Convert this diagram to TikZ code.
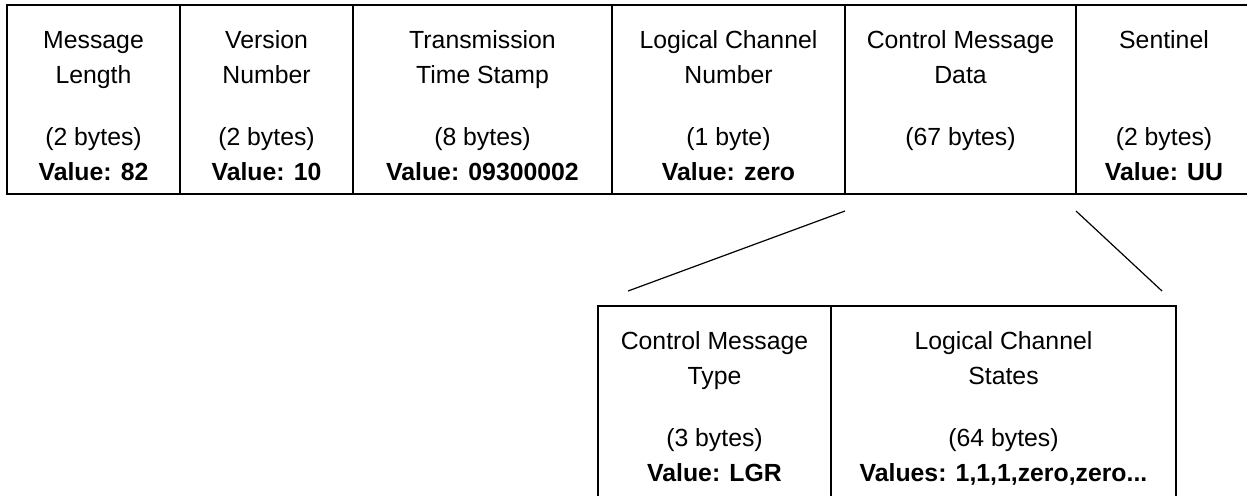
\documentclass[tikz,border=0pt]{standalone}
\usepackage{fontspec}
\setmainfont{Liberation Sans}
\usetikzlibrary{positioning,fit}
\tikzset{
  fieldbox/.style={draw, line width=0.9pt, inner sep=0pt, outer sep=0pt},
  fieldtext/.style={align=center, inner sep=0pt, font=\fontsize{12.4}{17.5}\selectfont},
  zoomline/.style={line width=0.6pt}
}
\newcommand\field[6]{
  \node[fieldbox, fit={(#2,#4) (#3,#5)}] (#1) {};
  \node[fieldtext, below=12.25pt of #1.north] (#1txt) {\rule{0pt}{9.5pt}#6};
}

\begin{document}
\begin{tikzpicture}[x=0.5pt, y=-0.5pt]
  \useasboundingbox (0,0) rectangle (1247,495);
  \def\rowtop{5}
  \def\rowbot{194}
  \def\subtop{306}
  \def\subbot{500}

  \field{msglen}{7}{180}{\rowtop}{\rowbot}{Message\\Length\\[13.5pt](2 bytes)\\\textbf{Value: 82}}
  \field{version}{180}{353}{\rowtop}{\rowbot}{Version\\Number\\[13.5pt](2 bytes)\\\textbf{Value: 10}}
  \field{stamp}{353}{612}{\rowtop}{\rowbot}{Transmission\\Time Stamp\\[13.5pt](8 bytes)\\\textbf{Value: 09300002}}
  \field{chan}{612}{845}{\rowtop}{\rowbot}{Logical Channel\\Number\\[13.5pt](1 byte)\\\textbf{Value: zero}}
  \field{cmdata}{845}{1076}{\rowtop}{\rowbot}{Control Message\\Data\\[13.5pt](67 bytes)}
  \field{sentinel}{1076}{1252}{\rowtop}{\rowbot}{Sentinel\\\mbox{}\\[13.5pt](2 bytes)\\\textbf{Value: UU}}

  \field{cmtype}{598}{831}{\subtop}{\subbot}{Control Message\\Type\\[13.5pt](3 bytes)\\\textbf{Value: LGR}}
  \field{lcstates}{831}{1176}{\subtop}{\subbot}{Logical Channel\\States\\[13.5pt](64 bytes)\\\textbf{Values: 1,1,1,zero,zero...}}

  \draw[zoomline] ([yshift=-8.5pt]cmdata.south west) -- ([xshift=15pt,yshift=7.5pt]cmtype.north west);
  \draw[zoomline] ([yshift=-8.5pt]cmdata.south east) -- ([xshift=-7pt,yshift=7.5pt]lcstates.north east);
\end{tikzpicture}
\end{document}
